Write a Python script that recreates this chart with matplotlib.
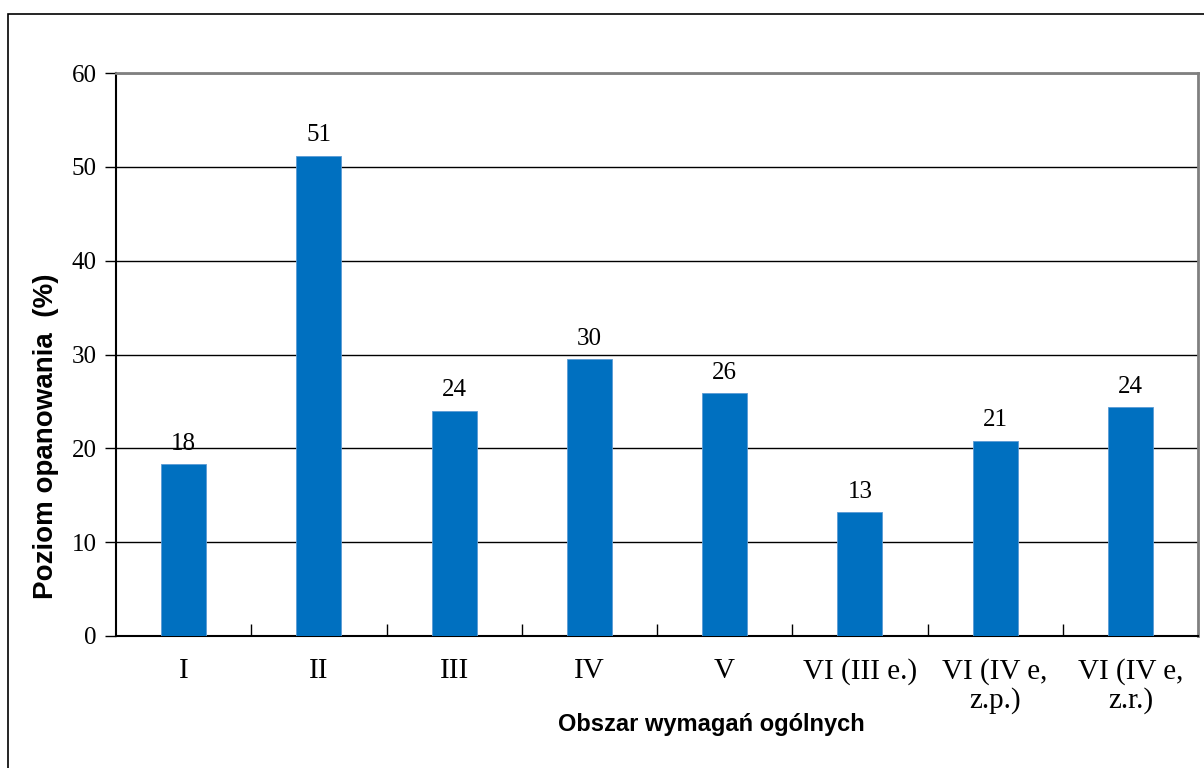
import numpy as np
import matplotlib.pyplot as plt
from matplotlib.patches import Rectangle

# Data
categories = ['I', 'II', 'III', 'IV', 'V', 'VI (III e.)', 'VI (IV e,\nz.p.)', 'VI (IV e,\nz.r.)']
values = [18.3, 51.2, 24.0, 29.5, 25.9, 13.2, 20.8, 24.4]
valueLabels = ['18', '51', '24', '30', '26', '13', '21', '24']
yTicks = [0, 10, 20, 30, 40, 50, 60]

W, H = 1204, 768
fig = plt.figure(figsize=(W / 100, H / 100), dpi=100)

# outer frame around the chart
fig.patches.append(Rectangle((8 / W, -0.1), 1.2, 1 - 14 / H + 0.1, transform=fig.transFigure,
                             fill=False, edgecolor='black', linewidth=1.2))

ax = fig.add_axes([116 / W, (H - 636) / H, (1198 - 116) / W, (636 - 73) / H])

x = np.arange(len(categories))
ax.bar(x, values, width=0.333, color='#0070C0', edgecolor='#5B9BD5', linewidth=0.6, zorder=3)

for xi, v, lab in zip(x, values, valueLabels):
    ax.text(xi, v + 1.0, lab, ha='center', va='bottom', fontsize=18, family='Liberation Serif')

ax.set_xlim(-0.5, len(categories) - 0.5)
ax.set_ylim(0, 60)
ax.set_yticks(yTicks)
ax.set_yticklabels([str(t) for t in yTicks], fontsize=18, family='Liberation Serif')
ax.yaxis.grid(True, color='black', linewidth=1.0, zorder=0)

# category labels at bar centres, small inward ticks
ax.set_xticks(x)
ax.set_xticklabels(categories, fontsize=21, family='Liberation Serif', linespacing=1.1)
ax.tick_params(axis='x', direction='in', length=5, width=1, pad=16)
# boundary ticks between categories
ax.set_xticks(np.arange(0.5, len(categories) - 0.5, 1.0), minor=True)
ax.tick_params(axis='x', which='minor', direction='in', length=9, width=1)
ax.tick_params(axis='y', direction='out', length=8, width=1, pad=6)

for side in ['left', 'bottom']:
    ax.spines[side].set_color('black')
    ax.spines[side].set_linewidth(1.5)
for side in ['top', 'right']:
    ax.spines[side].set_color('#808080')
    ax.spines[side].set_linewidth(2.0)

ax.set_xlabel('Obszar wymagań ogólnych', fontsize=17, fontweight='bold',
              family='Liberation Sans')
ax.xaxis.set_label_coords(0.55, -0.137)
ax.set_ylabel('Poziom opanowania  (%)', fontsize=20, fontweight='bold',
              family='Liberation Sans')
ax.yaxis.set_label_coords(-0.053, 0.355)

fig.savefig('out.png', dpi=100)
